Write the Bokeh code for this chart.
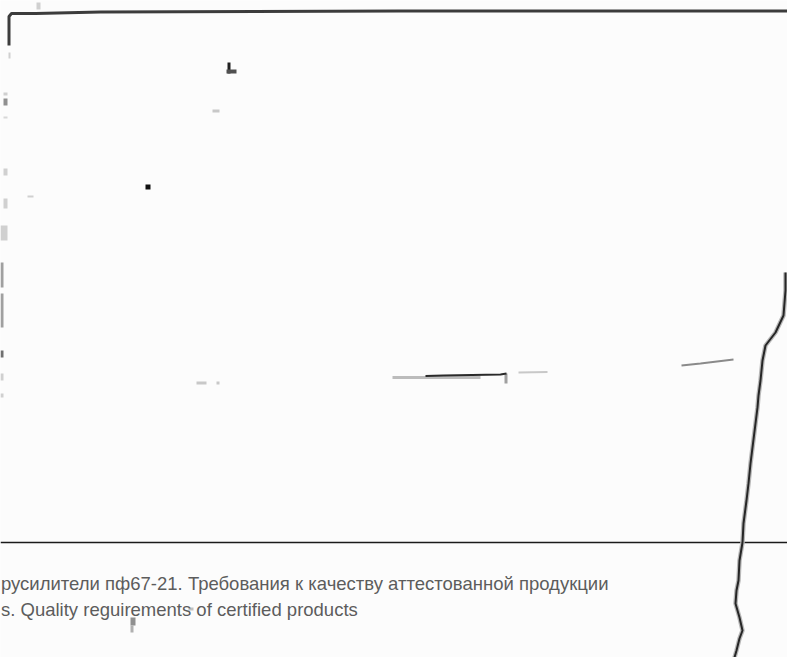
from bokeh.plotting import figure
from bokeh.models import Range1d
from bokeh.core.properties import value
from bokeh.embed import file_html
from bokeh.resources import INLINE

# ---- data (page coordinates of the scanned sheet) ----
TOP_X = [8.5, 8.5, 11, 35, 100, 400, 787]
TOP_Y = [45, 16, 13, 13, 11.5, 10.5, 10.5]

RULE_X = [0, 787]
RULE_Y = [542, 542]

SCRATCH_X = [785, 785, 783, 775, 765, 762, 760, 758, 757, 755, 752, 750, 748, 746, 743, 742, 739, 738, 736, 735, 739, 742, 739, 736, 734]
SCRATCH_Y = [272, 290, 315, 332, 345, 360, 380, 395, 407, 423, 447, 463, 483, 500, 523, 542, 560, 580, 590, 603, 617, 630, 638, 650, 657]

STROKE_LIGHT_X = [392, 480]
STROKE_LIGHT_Y = [377, 377]
STROKE_DARK_X = [425, 443, 500, 506]
STROKE_DARK_Y = [375.5, 375, 374, 373]
STROKE_B_X = [518, 547]
STROKE_B_Y = [372, 371.5]
STROKE_C_X = [681, 700, 733]
STROKE_C_Y = [365, 363, 359]

MARK_L = [8, 3, 3, 3, 3, 3, 0, 0, 0, 0, 0, 0, 27, 212, 196, 216, 227, 226, 145, 130, 130, 188, 36, 504]
MARK_R = [10, 7, 7, 7, 7, 7, 7, 3, 3, 3, 3, 3, 33, 219, 206, 219, 230, 236, 150, 135, 133, 193, 40, 507]
MARK_T = [52, 92, 98, 116, 168, 198, 225, 262, 293, 350, 373, 393, 195, 109, 381, 381, 62, 69, 184, 617, 625, 607, 2, 373]
MARK_B = [58, 95, 105, 118, 175, 208, 240, 287, 327, 357, 380, 397, 197, 112, 384, 384, 73, 73, 189, 625, 632, 610, 9, 383]
MARK_C = ["#d0d0d0", "#d0d0d0", "#909090", "#d8d8d8", "#d0d0d0", "#d0d0d0", "#d0d0d0",
          "#a0a0a0", "#a0a0a0", "#707070", "#d0d0d0", "#d0d0d0", "#d0d0d0", "#c8c8c8",
          "#c8c8c8", "#c8c8c8", "#202020", "#505050", "#101010", "#909090", "#b0b0b0",
          "#c0c0c0", "#d0d0d0", "#a0a0a0"]

TEXT_X = [0.5, 0.5]
TEXT_Y = [583, 609]
TEXT_LINES = ["русилители пф67-21. Требования к качеству аттестованной продукции",
              "s. Quality reguirements of certified products"]

# ---- figure ----
p = figure(width=787, height=657, output_backend="svg", toolbar_location=None,
           x_range=Range1d(0, 787), y_range=Range1d(657, 0),
           min_border=0, min_border_left=0, min_border_right=0,
           min_border_top=0, min_border_bottom=0)
p.axis.visible = False
p.grid.visible = False
p.outline_line_color = None
p.background_fill_color = "#fcfcfc"
p.border_fill_color = "#fcfcfc"
p.styles = {"position": "absolute", "left": "0px", "top": "0px"}

p.quad(left=MARK_L, right=MARK_R, top=MARK_T, bottom=MARK_B,
       fill_color=MARK_C, line_color=None)

p.line(TOP_X, TOP_Y, line_width=3, line_color="#3c3c3c")
p.line(RULE_X, RULE_Y, line_width=1.6, line_color="#1a1a1a")

p.line(STROKE_LIGHT_X, STROKE_LIGHT_Y, line_width=3, line_color="#bcbcbc")
p.line(STROKE_DARK_X, STROKE_DARK_Y, line_width=2, line_color="#2a2a2a")
p.line(STROKE_B_X, STROKE_B_Y, line_width=2, line_color="#c8c8c8")
p.line(STROKE_C_X, STROKE_C_Y, line_width=2, line_color="#8a8a8a")

p.line(SCRATCH_X, SCRATCH_Y, line_width=4.5, line_color="#b8b8b8")
p.line(SCRATCH_X, SCRATCH_Y, line_width=2, line_color="#262626")

p.text(x=TEXT_X, y=TEXT_Y, text=TEXT_LINES, text_align="left",
       text_baseline="alphabetic", text_font=value("Liberation Sans"),
       text_font_size=value("18.5px"), text_color="#5c5c5c")

open("out.html", "w").write(file_html(p, INLINE))
